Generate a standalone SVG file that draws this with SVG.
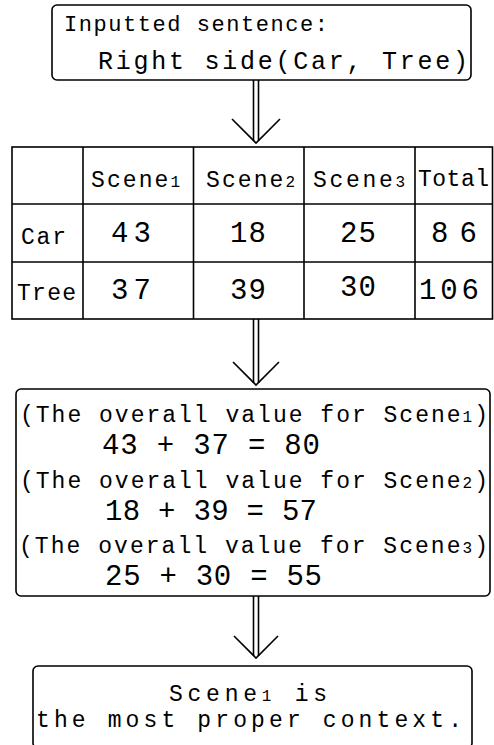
<svg xmlns="http://www.w3.org/2000/svg" width="494" height="745" viewBox="0 0 494 745">
<style>
.box{fill:none;stroke:#000;stroke-width:1.6}
.ln{stroke:#000;stroke-width:1.6;fill:none}
.t{font-family:"Liberation Mono","DejaVu Sans Mono",monospace;fill:#000}
.s{font-size:23px}
.n{font-size:29px}
.sub{font-size:16px}
</style>
<rect width="494" height="745" fill="#fff"/>
<g id="input">
<rect class="box" x="52" y="5" width="419" height="75" rx="5"/>
<text class="t" x="64" y="31" font-size="22" textLength="264" lengthAdjust="spacing">Inputted sentence:</text>
<text class="t" x="98" y="69" font-size="25" textLength="370" lengthAdjust="spacing">Right side(Car, Tree)</text>
</g>
<g id="table">
<rect class="box" x="12" y="147" width="480.5" height="172" stroke-width="2"/>
<line class="ln" x1="12" y1="204" x2="492.5" y2="204"/>
<line class="ln" x1="12" y1="262" x2="492.5" y2="262"/>
<line class="ln" x1="83" y1="147" x2="83" y2="319"/>
<line class="ln" x1="193.5" y1="147" x2="193.5" y2="319"/>
<line class="ln" x1="304" y1="147" x2="304" y2="319"/>
<line class="ln" x1="415" y1="147" x2="415" y2="319"/>
<text class="t s" x="91" y="187" textLength="89" lengthAdjust="spacing">Scene<tspan class="sub">1</tspan></text>
<text class="t s" x="206" y="187" textLength="89" lengthAdjust="spacing">Scene<tspan class="sub">2</tspan></text>
<text class="t s" x="313" y="187" textLength="92" lengthAdjust="spacing">Scene<tspan class="sub">3</tspan></text>
<text class="t s" x="418" y="186" textLength="71" lengthAdjust="spacing">Total</text>
<text class="t s" x="21" y="244" textLength="45" lengthAdjust="spacing">Car</text>
<text class="t s" x="17" y="300" textLength="59" lengthAdjust="spacing">Tree</text>
<text class="t n" x="111" y="242" textLength="40" lengthAdjust="spacing">43</text>
<text class="t n" x="230" y="242" textLength="36" lengthAdjust="spacing">18</text>
<text class="t n" x="340" y="242" textLength="36" lengthAdjust="spacing">25</text>
<text class="t n" x="431" y="242" textLength="46" lengthAdjust="spacing">86</text>
<text class="t n" x="111" y="299" textLength="40" lengthAdjust="spacing">37</text>
<text class="t n" x="230" y="299" textLength="36" lengthAdjust="spacing">39</text>
<text class="t n" x="340" y="296" textLength="36" lengthAdjust="spacing">30</text>
<text class="t n" x="419" y="299" textLength="60" lengthAdjust="spacing">106</text>
</g>
<g id="calc">
<rect class="box" x="16" y="389" width="474" height="207" rx="5"/>
<text class="t s" x="20" y="422" textLength="468" lengthAdjust="spacing">(The overall value for Scene<tspan class="sub">1</tspan>)</text>
<text class="t n" x="102" y="454" textLength="218" lengthAdjust="spacing">43 + 37 = 80</text>
<text class="t s" x="20" y="488" textLength="468" lengthAdjust="spacing">(The overall value for Scene<tspan class="sub">2</tspan>)</text>
<text class="t n" x="105" y="520" textLength="212" lengthAdjust="spacing">18 + 39 = 57</text>
<text class="t s" x="19" y="553" textLength="469" lengthAdjust="spacing">(The overall value for Scene<tspan class="sub">3</tspan>)</text>
<text class="t n" x="105" y="585" textLength="217" lengthAdjust="spacing">25 + 30 = 55</text>
</g>
<g id="result">
<rect class="box" x="33" y="666" width="439" height="82" rx="5"/>
<text class="t s" x="169" y="701" textLength="158" lengthAdjust="spacing">Scene<tspan class="sub">1</tspan> is</text>
<text class="t s" x="36" y="727" textLength="426" lengthAdjust="spacing">the most proper context.</text>
</g>
<g id="connectors">
<line class="ln" x1="253.5" y1="80" x2="253.5" y2="141"/>
<line class="ln" x1="258.5" y1="80" x2="258.5" y2="141"/>
<polyline class="ln" points="232,119 256,143 280,119"/>
<line class="ln" x1="253.5" y1="319" x2="253.5" y2="383"/>
<line class="ln" x1="258.5" y1="319" x2="258.5" y2="383"/>
<polyline class="ln" points="233,362 256,385 279,362"/>
<line class="ln" x1="253.5" y1="596" x2="253.5" y2="656"/>
<line class="ln" x1="258.5" y1="596" x2="258.5" y2="656"/>
<polyline class="ln" points="234,636 256,658 278,636"/>
</g>
</svg>
